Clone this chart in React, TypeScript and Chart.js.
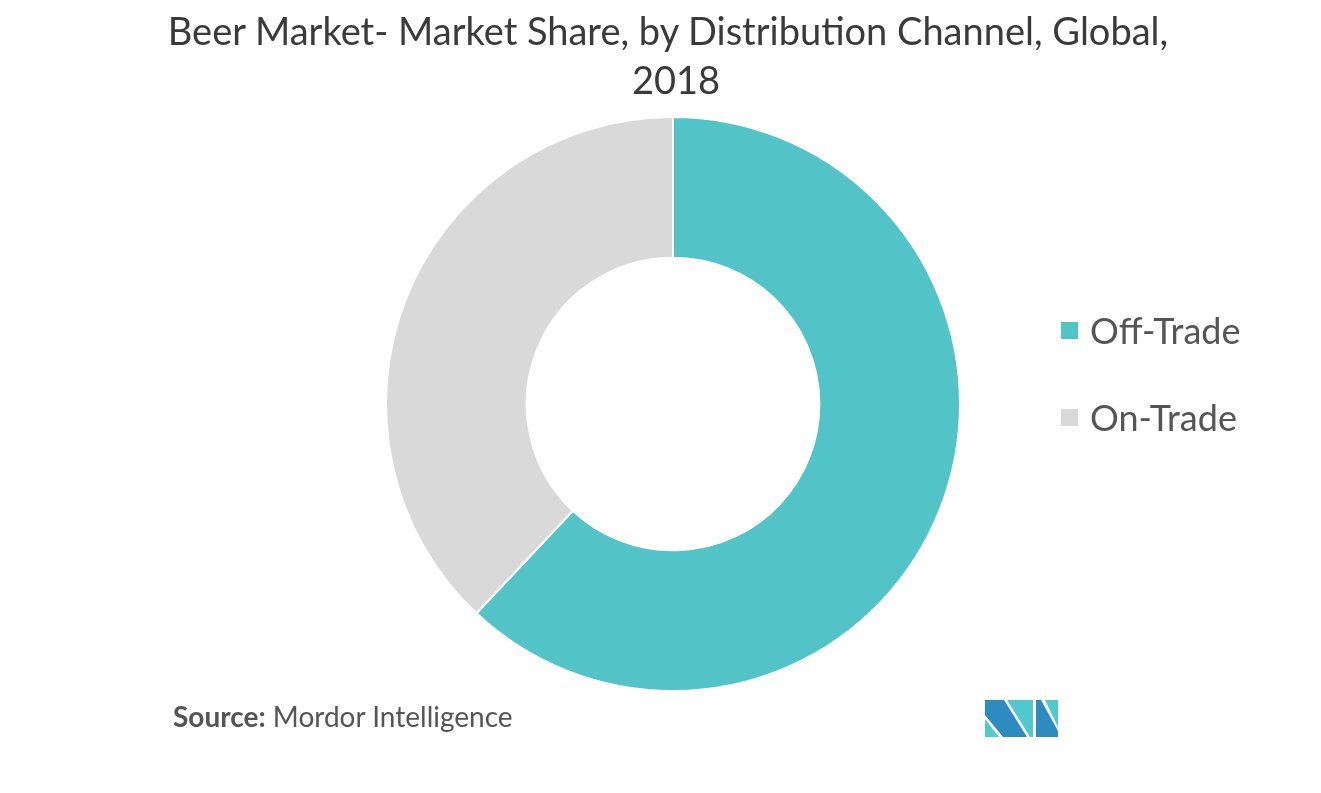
import React, { useEffect, useRef } from "react";
import { Chart, registerables } from "chart.js";

Chart.register(...registerables);

const categories = ["Off-Trade", "On-Trade"];
const shares = [62, 38];
const colors = ["#52C4C8", "#D9D9D9"];
const titleLines = ["Beer Market- Market Share, by Distribution Channel, Global,", "2018"];
const sourceLabel = "Source:";
const sourceName = "Mordor Intelligence";

const FONT = "Lato, 'Noto Sans', sans-serif";

export default function App() {
  const ref = useRef<HTMLCanvasElement>(null);

  useEffect(() => {
    const chart = new Chart(ref.current!, {
      type: "doughnut",
      data: {
        labels: categories,
        datasets: [
          {
            data: shares,
            backgroundColor: colors,
            borderColor: "#ffffff",
            borderWidth: 2,
            hoverOffset: 0,
          },
        ],
      },
      options: {
        responsive: false,
        animation: false,
        cutout: "51%",
        layout: { padding: { top: 116, bottom: 101, left: 385, right: 360 } },
        plugins: {
          legend: { display: false },
          tooltip: { enabled: false },
          title: { display: false },
        },
      },
    });
    return () => chart.destroy();
  }, []);

  return (
    <div
      style={{
        position: "fixed",
        left: 0,
        top: 0,
        width: 1321,
        height: 793,
        background: "#ffffff",
        fontFamily: FONT,
        overflow: "hidden",
      }}
    >
      <canvas
        ref={ref}
        width={1321}
        height={793}
        style={{ position: "absolute", left: 0, top: 0, width: 1321, height: 793 }}
      />
      <div
        style={{
          position: "absolute",
          left: 15,
          top: 6,
          width: 1306,
          textAlign: "center",
          fontSize: 38,
          lineHeight: "49px",
          color: "#3a3a3a",
        }}
      >
        {titleLines.map((l, i) => (
          <div key={i} style={{ paddingLeft: i === 1 ? 16 : 0 }}>
            {l}
          </div>
        ))}
      </div>
      {categories.map((c, i) => (
        <div
          key={c}
          style={{
            position: "absolute",
            left: 1061,
            top: 305 + i * 87,
            height: 50,
            display: "flex",
            alignItems: "center",
            fontSize: 36,
            color: "#555555",
          }}
        >
          <span
            style={{
              display: "inline-block",
              width: 17,
              height: 17,
              background: colors[i],
              marginRight: 12,
            }}
          />
          <span>{c}</span>
        </div>
      ))}
      <div
        style={{
          position: "absolute",
          left: 173,
          top: 699,
          fontSize: 28,
          color: "#555555",
          whiteSpace: "nowrap",
        }}
      >
        <b>{sourceLabel}</b> {sourceName}
      </div>
      <svg
        style={{ position: "absolute", left: 984, top: 700 }}
        width={75}
        height={38}
        viewBox="984 700 75 38"
      >
        <polygon points="985,700 1004,700 1027,737 1003,737 985,715" fill="#2E8BC0" />
        <polygon points="985,719 985,737 999,737" fill="#4FC9CB" />
        <polygon points="1007,700 1033,700 1033,737 1030,737" fill="#4FC9CB" />
        <polygon points="1045,700 1058,700 1058,727" fill="#4FC9CB" />
        <polygon points="1036,700 1041,700 1058,731 1058,737 1036,737" fill="#2E8BC0" />
      </svg>
    </div>
  );
}
